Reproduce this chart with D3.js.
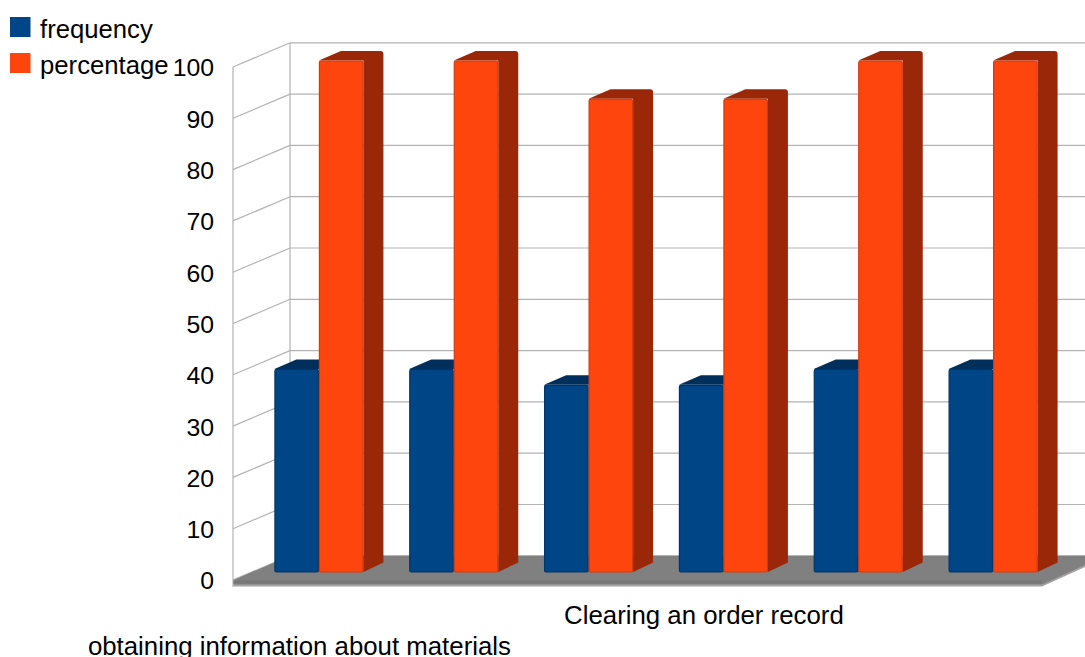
<!DOCTYPE html>
<html>
<head>
<meta charset="utf-8">
<script src="https://cdn.jsdelivr.net/npm/d3@7"></script>
<style>
    html, body { margin: 0; padding: 0; background: #fff; overflow: hidden; }
    svg { display: block; font-family: "Liberation Sans", Arial, sans-serif; fill: #000; }
</style>
</head>
<body>
<svg id="chart" width="1085" height="657"></svg>
<script>
// Chart values
const categories = ["obtaining information about materials", "", "", "Clearing an order record", "", ""];
const frequency = [39.7, 39.7, 36.6, 36.6, 39.7, 39.7];
const percentage = [100, 100, 92.5, 92.5, 100, 100];
const seriesNames = ["frequency", "percentage"];
const yTicks = [0, 10, 20, 30, 40, 50, 60, 70, 80, 90, 100];

const faceColors = ["#004586", "#ff450e"];
const edgeColors = ["#003667", "#d63a0c"];
const shadeColors = ["#002f5c", "#992708"];

const svg = d3.select("#chart");

// Scales for the front plane of the 3D box
const x = d3.scaleBand().domain(d3.range(categories.length)).range([233, 1042]).paddingInner(0.34).paddingOuter(0.17);
const xSeries = d3.scaleBand().domain(seriesNames).range([0, x.bandwidth()]);
const y = d3.scaleLinear().domain([0, 100]).range([580, 67]);
const yBar = d3.scaleLinear().domain([0, 100]).range([572, 60.5]);

// Depth offsets
const wall = { dx: 57, dy: -24.2 };
const barOffset = 18.5;
const barDepth = { dx: 20, dy: -9.5 };
const rightEdge = 1085;

// Walls and grid
const grid = svg.append("g").attr("fill", "none").attr("stroke", "#b3b3b3").attr("stroke-width", 1.2);
grid.selectAll("line.back").data(yTicks).join("line").attr("class", "back")
    .attr("x1", 233 + wall.dx).attr("x2", rightEdge)
    .attr("y1", d => y(d) + wall.dy).attr("y2", d => y(d) + wall.dy);
grid.selectAll("line.side").data(yTicks).join("line").attr("class", "side")
    .attr("x1", 233).attr("x2", 233 + wall.dx)
    .attr("y1", d => y(d)).attr("y2", d => y(d) + wall.dy);
grid.append("line").attr("x1", 233).attr("x2", 233).attr("y1", y(100)).attr("y2", y(0) + 7);
grid.append("line").attr("x1", 233 + wall.dx).attr("x2", 233 + wall.dx).attr("y1", y(100) + wall.dy).attr("y2", y(0) + wall.dy);

// Floor: top face, then the lighter front edge
const floorLine = d3.line();
svg.append("path")
    .attr("fill", "#a3a3a3")
    .attr("d", floorLine([
        [233.5, y(0) + 3], [1042, y(0) + 3], [rightEdge, y(0) - 17], [rightEdge, y(0) - 13], [1042, y(0) + 6.5], [233.5, y(0) + 6.5]
    ]) + "Z");
svg.append("path")
    .attr("fill", "#808080")
    .attr("d", floorLine([
        [233.5, y(0)], [233 + wall.dx, y(0) + wall.dy], [rightEdge, y(0) + wall.dy],
        [rightEdge, y(0) - 15], [1042, y(0) + 4.5], [233.5, y(0) + 4.5]
    ]) + "Z");
svg.append("rect").attr("x", 233.5).attr("y", y(0) + 0.5).attr("width", 1042 - 233.5).attr("height", 3)
    .attr("fill", "#777777");

// Bars
const values = [frequency, percentage];
const bars = [];
categories.forEach((c, i) => {
    seriesNames.forEach((s, j) => {
        bars.push({ i, j, s, value: values[j][i] });
    });
});

const bar = svg.append("g").selectAll("g").data(bars).join("g")
    .attr("transform", d => `translate(${x(d.i) + barOffset + xSeries(d.s)},0)`);

// side and top faces, the far corner is rounded
bar.append("path")
    .attr("fill", d => shadeColors[d.j])
    .attr("d", d => {
        const w = xSeries.bandwidth();
        const t = yBar(d.value), b = yBar(0);
        const p = d3.path();
        p.moveTo(w, b);
        p.lineTo(w + barDepth.dx, b + barDepth.dy);
        p.arcTo(w + barDepth.dx, t + barDepth.dy, w, t + barDepth.dy, 3);
        p.arcTo(w, t + barDepth.dy, barDepth.dx, t + barDepth.dy, 0);
        p.lineTo(barDepth.dx + 2, t + barDepth.dy);
        p.lineTo(0, t);
        p.lineTo(w, t);
        p.closePath();
        return p.toString();
    });

// front face
bar.append("rect")
    .attr("x", 0.5)
    .attr("y", d => yBar(d.value) + 0.5)
    .attr("width", xSeries.bandwidth() - 1)
    .attr("height", d => yBar(0) - yBar(d.value) - 0.5)
    .attr("rx", 1.5)
    .attr("fill", d => faceColors[d.j])
    .attr("stroke", d => edgeColors[d.j])
    .attr("stroke-width", 1.2);

// Y axis
const yAxis = d3.axisLeft(y).tickValues(yTicks).tickSize(0).tickPadding(0);
const yG = svg.append("g").attr("transform", "translate(214,0)").call(yAxis);
yG.select(".domain").remove();
yG.selectAll("text").attr("fill", "#000").attr("font-size", 24.8).attr("font-family", '"Liberation Sans"').attr("dy", "0.36em");

// Category labels, staggered on two rows
const xAxis = d3.axisBottom(d3.scaleBand().domain(d3.range(categories.length)).range([232, 1041]))
    .tickSize(0).tickFormat(i => categories[i]);
const xG = svg.append("g").call(xAxis);
xG.select(".domain").remove();
xG.selectAll("text")
    .attr("fill", "#000").attr("font-size", 25.8).attr("font-family", '"Liberation Sans"')
    .attr("dy", 0)
    .attr("y", i => i % 2 === 0 ? 655 : 623.5);

// Legend
const legend = svg.append("g").selectAll("g").data(seriesNames).join("g")
    .attr("transform", (d, i) => `translate(10,${17 + i * 36})`);
legend.append("rect").attr("width", 20.5).attr("height", 20).attr("fill", (d, i) => faceColors[i]);
legend.append("text").attr("x", 30).attr("y", 20.5).attr("font-size", 25.7).text(d => d);
</script>
</body>
</html>
